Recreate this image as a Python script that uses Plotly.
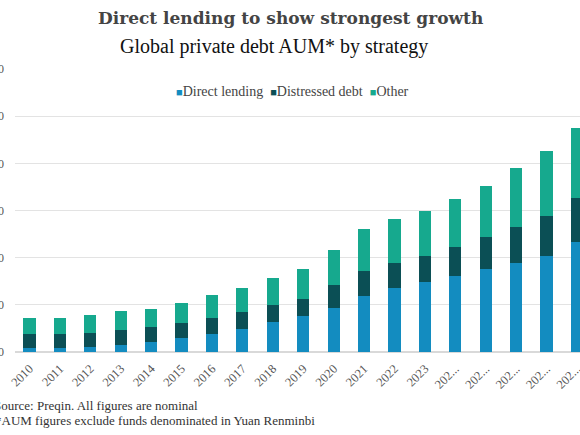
import plotly.graph_objects as go

years = [str(y) for y in range(2010, 2029)]
tick_labels = [str(y) for y in range(2010, 2024)] + ["202..."] * 5
direct_lending = [47, 47, 57, 78, 106, 148, 187, 247, 314, 382, 462, 589, 678, 737, 808, 875, 943, 1020, 1168]
distressed_debt = [148, 139, 144, 155, 156, 163, 170, 177, 180, 183, 248, 265, 265, 286, 310, 343, 384, 424, 469]
other = [162, 170, 188, 198, 194, 205, 244, 258, 286, 311, 371, 452, 466, 477, 502, 543, 622, 692, 735]
y_ticks = [0, 500, 1000, 1500, 2000, 2500, 3000]

series = [
    ("Direct lending", direct_lending, "#138cc0"),
    ("Distressed debt", distressed_debt, "#0b4f55"),
    ("Other", other, "#16a98e"),
]

serif = "Georgia, 'Liberation Serif', 'DejaVu Serif', serif"
title_font = "'DejaVu Serif', serif"

fig = go.Figure()
for name, vals, color in series:
    fig.add_trace(go.Bar(x=years, y=vals, name=name, showlegend=False,
                         marker=dict(color=color, line=dict(width=0))))

W, H = 580, 435
L, R, T, B = 15, 0, 69, 83
pw = W - L - R
ph = H - T - B

def px(x):
    return (x - L) / pw

def py(y):
    return (H - B - y) / ph

legend_text = "  ".join(
    f"<span style='color:{c};font-size:11px'>■</span>{n}" for n, _, c in series
)

fig.update_layout(
    width=W, height=H,
    barmode="stack", bargap=0.6,
    margin=dict(l=L, r=R, t=T, b=B, autoexpand=False),
    paper_bgcolor="white", plot_bgcolor="white",
    font=dict(family=serif, color="#444444"),
    xaxis=dict(type="category", range=[-0.477, 18.1], tickmode="array", tickvals=years,
               ticktext=tick_labels, tickangle=-45, tickfont=dict(size=12.5, color="#555555"),
               ticklabelstandoff=6,
               showgrid=False, showline=False, ticks="", automargin=False),
    yaxis=dict(range=[0, 3000], tickvals=y_ticks, tickformat=",", showgrid=True,
               gridcolor="#e3e3e3", gridwidth=1, zeroline=True, zerolinecolor="#d9d9d9",
               tickfont=dict(size=12, color="#555555"), ticklabelstandoff=10, automargin=False),
    annotations=[
        dict(text="<b>Direct lending to show strongest growth</b>", x=px(290), y=py(18),
             xref="paper", yref="paper", xanchor="center", yanchor="middle", showarrow=False,
             font=dict(size=17, color="#444444", family=title_font)),
        dict(text="Global private debt AUM* by strategy", x=px(274), y=py(47),
             xref="paper", yref="paper", xanchor="center", yanchor="middle", showarrow=False,
             font=dict(size=20, color="#111111", family=serif)),
        dict(text=legend_text, x=px(292), y=py(91),
             xref="paper", yref="paper", xanchor="center", yanchor="middle", showarrow=False,
             font=dict(size=14, color="#444444", family=serif)),
        dict(text="Source: Preqin. All figures are nominal", x=px(-8), y=py(405),
             xref="paper", yref="paper", xanchor="left", yanchor="middle", showarrow=False,
             font=dict(size=13, color="#333333", family=serif)),
        dict(text="*AUM figures exclude funds denominated in Yuan Renminbi", x=px(-7), y=py(420),
             xref="paper", yref="paper", xanchor="left", yanchor="middle", showarrow=False,
             font=dict(size=13, color="#333333", family=serif)),
    ],
)

fig.write_html("out.html", config={"displayModeBar": False},
               post_script="document.body.style.margin='0';")
